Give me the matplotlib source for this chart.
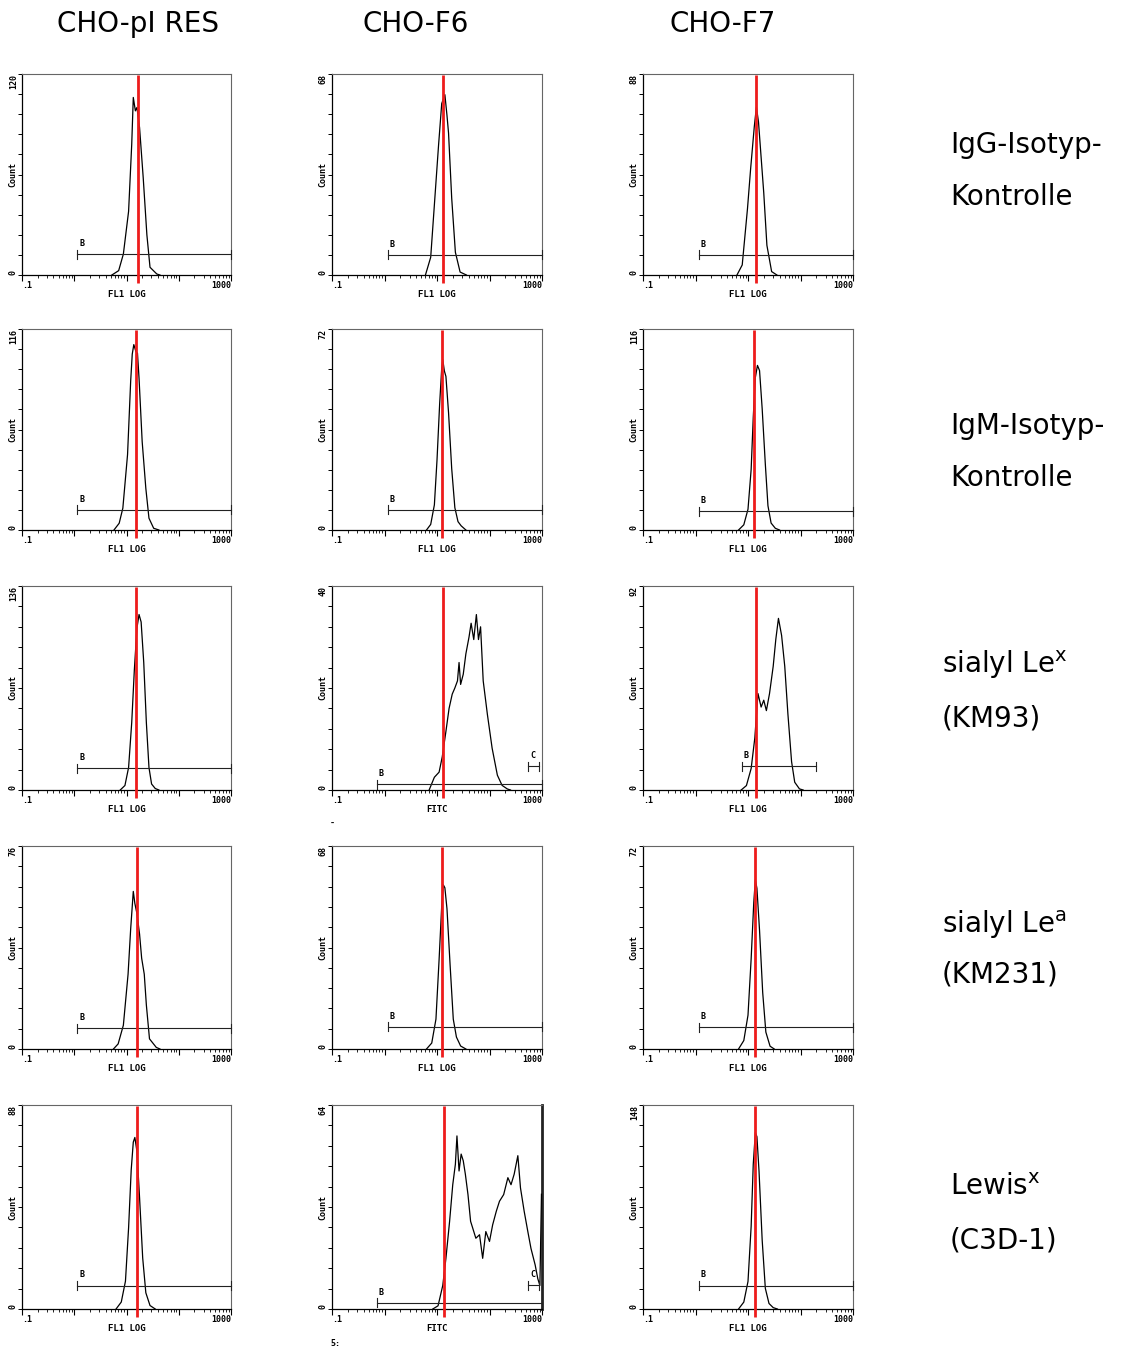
import numpy as np
import matplotlib
matplotlib.use("Agg")
import matplotlib.pyplot as plt
import matplotlib.transforms as mtransforms
from matplotlib.ticker import FixedLocator, LogLocator, NullFormatter

# ---------------- data ----------------
cell_lines = ["CHO-pI RES", "CHO-F6", "CHO-F7"]
antibody_line1 = ["IgG-Isotyp-", "IgM-Isotyp-", "sialyl Le$^{\\mathregular{x}}$",
                  "sialyl Le$^{\\mathregular{a}}$", "Lewis$^{\\mathregular{x}}$"]
antibody_line2 = ["Kontrolle", "Kontrolle", "(KM93)", "(KM231)", "(C3D-1)"]

# y-axis maxima (Count) per panel [row][col]
count_max = [[120, 68, 88],
             [116, 72, 116],
             [136, 40, 92],
             [76, 68, 72],
             [88, 64, 148]]

# x-axis titles per panel
x_titles = [["FL1 LOG", "FL1 LOG", "FL1 LOG"],
            ["FL1 LOG", "FL1 LOG", "FL1 LOG"],
            ["FL1 LOG", "FITC", "FL1 LOG"],
            ["FL1 LOG", "FL1 LOG", "FL1 LOG"],
            ["FL1 LOG", "FITC", "FL1 LOG"]]

# red reference line (log10 fluorescence) per panel
red_log = [[1.22, 1.12, 1.15],
           [1.19, 1.10, 1.11],
           [1.19, 1.12, 1.15],
           [1.21, 1.10, 1.13],
           [1.20, 1.13, 1.13]]

# histograms: log10 fluorescence and counts
igg_pires_log = [0.72, 0.85, 0.94, 1.04, 1.10, 1.13, 1.17, 1.20, 1.25, 1.32, 1.39, 1.45, 1.58, 1.64]
igg_pires_cnt = [0, 2.6, 12.5, 38, 78, 106, 98, 100, 88, 58, 24, 4.6, 0.6, 0]
igg_f6_log = [0.78, 0.88, 1.03, 1.09, 1.15, 1.19, 1.22, 1.28, 1.35, 1.44, 1.56]
igg_f6_cnt = [0, 6.0, 44, 58, 61, 54, 48, 26, 7.7, 1, 0]
igg_f7_log = [0.79, 0.89, 0.99, 1.05, 1.12, 1.16, 1.20, 1.30, 1.36, 1.45, 1.55]
igg_f7_cnt = [0, 4.4, 29, 46.5, 65, 73.5, 67, 36, 13, 1.5, 0]

igm_pires_log = [0.76, 0.86, 0.93, 1.02, 1.08, 1.11, 1.14, 1.18, 1.21, 1.24, 1.30, 1.37, 1.43, 1.52, 1.62]
igm_pires_cnt = [0, 3.9, 12.6, 43.5, 86, 101.5, 107, 103, 102, 87.6, 51, 24, 6.8, 1, 0]
igm_f6_log = [0.80, 0.88, 0.95, 1.00, 1.05, 1.09, 1.11, 1.14, 1.17, 1.22, 1.28, 1.34, 1.40, 1.46, 1.55]
igm_f6_cnt = [0, 2, 9, 25, 45, 58, 61, 57, 55, 42, 22, 8, 3, 1.5, 0]
igm_f7_log = [0.82, 0.92, 1.00, 1.06, 1.10, 1.14, 1.18, 1.22, 1.27, 1.33, 1.38, 1.44, 1.52, 1.60]
igm_f7_cnt = [0, 3, 12, 35, 65, 88, 95, 92, 70, 38, 14, 4, 1, 0]

slex_pires_log = [0.88, 0.97, 1.04, 1.10, 1.15, 1.20, 1.24, 1.28, 1.33, 1.38, 1.43, 1.48, 1.55, 1.62]
slex_pires_cnt = [0, 3, 15, 45, 80, 108, 117, 112, 85, 45, 15, 4, 1, 0]
slex_f6_log = [0.85, 0.95, 1.04, 1.10, 1.17, 1.23, 1.29, 1.34, 1.39, 1.42, 1.45, 1.50, 1.55, 1.61,
               1.65, 1.70, 1.75, 1.79, 1.83, 1.88, 1.96, 2.05, 2.15, 2.24, 2.34, 2.40]
slex_f6_cnt = [0, 2.5, 3.5, 6.5, 11.5, 16, 18.8, 20, 21.4, 25, 20.7, 22.7, 26.7, 30,
               32.7, 29.5, 34.4, 29.5, 32, 21.4, 14.8, 8.2, 2.9, 0.9, 0.2, 0]
slex_f7_log = [0.87, 0.97, 1.06, 1.13, 1.19, 1.25, 1.30, 1.35, 1.41, 1.48, 1.53, 1.58,
               1.64, 1.70, 1.76, 1.83, 1.89, 1.98, 2.05]
slex_f7_cnt = [0, 2, 9.7, 23.5, 43.5, 37.4, 40.5, 35.8, 43.5, 55.8, 68, 77.4,
               69.7, 55.8, 34.3, 12.8, 3.5, 0.5, 0]

slea_pires_log = [0.75, 0.84, 0.94, 1.03, 1.08, 1.13, 1.16, 1.20, 1.25, 1.29, 1.34, 1.38, 1.44, 1.57, 1.64]
slea_pires_cnt = [0, 1.9, 8.9, 28, 45, 59, 54.5, 50.7, 43, 34, 28, 16.5, 3.8, 0.6, 0]
slea_f6_log = [0.80, 0.90, 0.98, 1.04, 1.09, 1.12, 1.15, 1.19, 1.25, 1.31, 1.37, 1.45, 1.55]
slea_f6_cnt = [0, 2, 10, 30, 48, 55, 54, 47, 28, 10, 4, 1, 0]
slea_f7_log = [0.82, 0.92, 1.00, 1.06, 1.11, 1.14, 1.17, 1.22, 1.28, 1.34, 1.42, 1.50]
slea_f7_cnt = [0, 3, 12, 32, 52, 60, 57, 42, 20, 6, 1, 0]

lex_pires_log = [0.80, 0.90, 0.98, 1.04, 1.09, 1.13, 1.16, 1.20, 1.25, 1.31, 1.37, 1.45, 1.55]
lex_pires_cnt = [0, 3, 12, 35, 60, 72, 74, 68, 48, 22, 7, 1.5, 0]
lex_f6_log = [0.92, 1.02, 1.11, 1.17, 1.24, 1.30, 1.35, 1.38, 1.42, 1.46, 1.50, 1.54, 1.59, 1.64,
              1.68, 1.74, 1.81, 1.87, 1.93, 2.00, 2.06, 2.13, 2.19, 2.27, 2.35, 2.41, 2.47,
              2.54, 2.59, 2.66, 2.73, 2.79, 2.87, 2.92, 2.96, 2.99]
lex_f6_cnt = [0, 1, 7.4, 15.9, 27.5, 39, 45.4, 54.3, 43.3, 48.6, 46.5, 42.3, 35.9, 27.5,
              25.4, 22.2, 23.3, 15.9, 24.3, 21.2, 26.4, 30.7, 33.8, 35.9, 41.2, 39, 42.3,
              48.1, 38, 30.7, 24.3, 19, 13.8, 9.5, 7.4, 36]
lex_f7_log = [0.82, 0.92, 1.00, 1.06, 1.10, 1.14, 1.17, 1.21, 1.27, 1.33, 1.40, 1.48, 1.56]
lex_f7_cnt = [0, 5, 20, 60, 105, 128, 125, 100, 50, 15, 4, 1, 0]

hist_log = [[igg_pires_log, igg_f6_log, igg_f7_log],
            [igm_pires_log, igm_f6_log, igm_f7_log],
            [slex_pires_log, slex_f6_log, slex_f7_log],
            [slea_pires_log, slea_f6_log, slea_f7_log],
            [lex_pires_log, lex_f6_log, lex_f7_log]]
hist_cnt = [[igg_pires_cnt, igg_f6_cnt, igg_f7_cnt],
            [igm_pires_cnt, igm_f6_cnt, igm_f7_cnt],
            [slex_pires_cnt, slex_f6_cnt, slex_f7_cnt],
            [slea_pires_cnt, slea_f6_cnt, slea_f7_cnt],
            [lex_pires_cnt, lex_f6_cnt, lex_f7_cnt]]

# marker gates: (name, log10 start, log10 end)
gate_B_std = ("B", 0.06, 3.0)
gates = [[[gate_B_std], [gate_B_std], [gate_B_std]],
         [[gate_B_std], [gate_B_std], [gate_B_std]],
         [[gate_B_std], [("B", -0.14, 3.0), ("C", 2.74, 2.95)], [("B", 0.89, 2.30)]],
         [[gate_B_std], [gate_B_std], [gate_B_std]],
         [[gate_B_std], [("B", -0.14, 3.0), ("C", 2.74, 2.95)], [gate_B_std]]]

# ---------------- layout (styling) ----------------
W, H = 1125, 1351
fig = plt.figure(figsize=(W / 100, H / 100), dpi=100)
fig.patch.set_facecolor("white")

col_left = [22, 332, 643]
col_right = [231, 542, 853]
row_top = [74, 329, 586, 846, 1105]
row_bot = [275, 530, 790, 1049, 1309]
gate_h = [[0.104, 0.10, 0.10],
          [0.10, 0.10, 0.093],
          [0.107, 0.027, 0.117],
          [0.103, 0.11, 0.108],
          [0.115, 0.03, 0.115]]
gate_C_h = 0.116
thick_right = [(4, 1)]

mono = dict(family="DejaVu Sans Mono", fontweight="bold")

for r in range(5):
    for c in range(3):
        l, rr = col_left[c], col_right[c]
        t, b = row_top[r], row_bot[r]
        ax = fig.add_axes([l / W, 1 - b / H, (rr - l) / W, (b - t) / H])
        ymax = count_max[r][c]
        ax.set_xscale("log")
        ax.set_xlim(0.1, 1000)
        ax.set_ylim(0, ymax)
        ax.plot(10 ** np.asarray(hist_log[r][c]), hist_cnt[r][c], color="black", lw=0.9, zorder=3)

        trans = mtransforms.blended_transform_factory(ax.transData, ax.transAxes)
        xr = 10 ** red_log[r][c]
        ax.plot([xr, xr], [-0.04, 0.995], color="#ee1c1c", lw=2.0, transform=trans,
                clip_on=False, zorder=6, solid_capstyle="butt")

        for name, lo, hi in gates[r][c]:
            h = gate_C_h if name == "C" else gate_h[r][c]
            x0, x1 = 10 ** lo, 10 ** hi
            ax.plot([x0, x1], [h, h], color="#222222", lw=0.8, transform=trans, clip_on=False, zorder=4)
            for xe in (x0, x1):
                ax.plot([xe, xe], [h - 0.022, h + 0.022], color="#222222", lw=0.8,
                        transform=trans, clip_on=False, zorder=4)
            ax.text(x0 * 1.08, h + 0.03, name, transform=trans, fontsize=6, ha="left",
                    va="bottom", **mono)

        # spines
        for s in ("left", "bottom"):
            ax.spines[s].set_linewidth(0.9)
            ax.spines[s].set_color("black")
        for s in ("top", "right"):
            ax.spines[s].set_linewidth(0.8)
            ax.spines[s].set_color("#666666")
        if (r, c) in thick_right:
            ax.spines["right"].set_linewidth(2.0)
            ax.spines["right"].set_color("#222222")

        # ticks
        ax.yaxis.set_major_locator(FixedLocator(np.linspace(0, ymax, 11)))
        ax.tick_params(axis="y", which="major", direction="out", length=3, width=0.7,
                       labelleft=False)
        ax.xaxis.set_major_locator(LogLocator(base=10, numticks=10))
        ax.xaxis.set_minor_locator(LogLocator(base=10, subs=np.arange(2, 10), numticks=20))
        ax.xaxis.set_major_formatter(NullFormatter())
        ax.xaxis.set_minor_formatter(NullFormatter())
        ax.tick_params(axis="x", which="major", direction="out", length=4, width=0.8)
        ax.tick_params(axis="x", which="minor", direction="out", length=2.2, width=0.6)

        # labels
        ax.text(-0.02, 1.0, str(ymax), transform=ax.transAxes, rotation=90, ha="right",
                va="top", fontsize=6, **mono)
        ax.text(-0.02, 0.0, "0", transform=ax.transAxes, rotation=90, ha="right",
                va="bottom", fontsize=6, **mono)
        ax.text(-0.02, 0.5, "Count", transform=ax.transAxes, rotation=90, ha="right",
                va="center", fontsize=6, **mono)
        ax.text(0.0, -0.03, ".1", transform=ax.transAxes, ha="left", va="top", fontsize=6, **mono)
        ax.text(1.0, -0.03, "1000", transform=ax.transAxes, ha="right", va="top", fontsize=6, **mono)
        ax.text(0.5, -0.075, x_titles[r][c], transform=ax.transAxes, ha="center", va="top",
                fontsize=6.5, **mono)

# column titles
title_x = [138, 416, 723]
for c in range(3):
    fig.text(title_x[c] / W, 1 - 24 / H, cell_lines[c], ha="center", va="center",
             fontsize=20, family="DejaVu Sans")

# row labels
lab_x = [950, 950, 942, 942, 950]
lab_y1 = [145, 426, 665, 925, 1187]
lab_y2 = [197, 478, 718, 975, 1240]
for r in range(5):
    fig.text(lab_x[r] / W, 1 - lab_y1[r] / H, antibody_line1[r], ha="left", va="center",
             fontsize=20, family="DejaVu Sans")
    fig.text(lab_x[r] / W, 1 - lab_y2[r] / H, antibody_line2[r], ha="left", va="center",
             fontsize=20, family="DejaVu Sans")

# small scan artefacts below the FITC panels
fig.text(330 / W, 1 - 826 / H, "-", fontsize=6, **mono)
fig.text(330 / W, 1 - 1346 / H, "5:", fontsize=6, **mono)

fig.savefig("out.png", dpi=100, facecolor="white")
